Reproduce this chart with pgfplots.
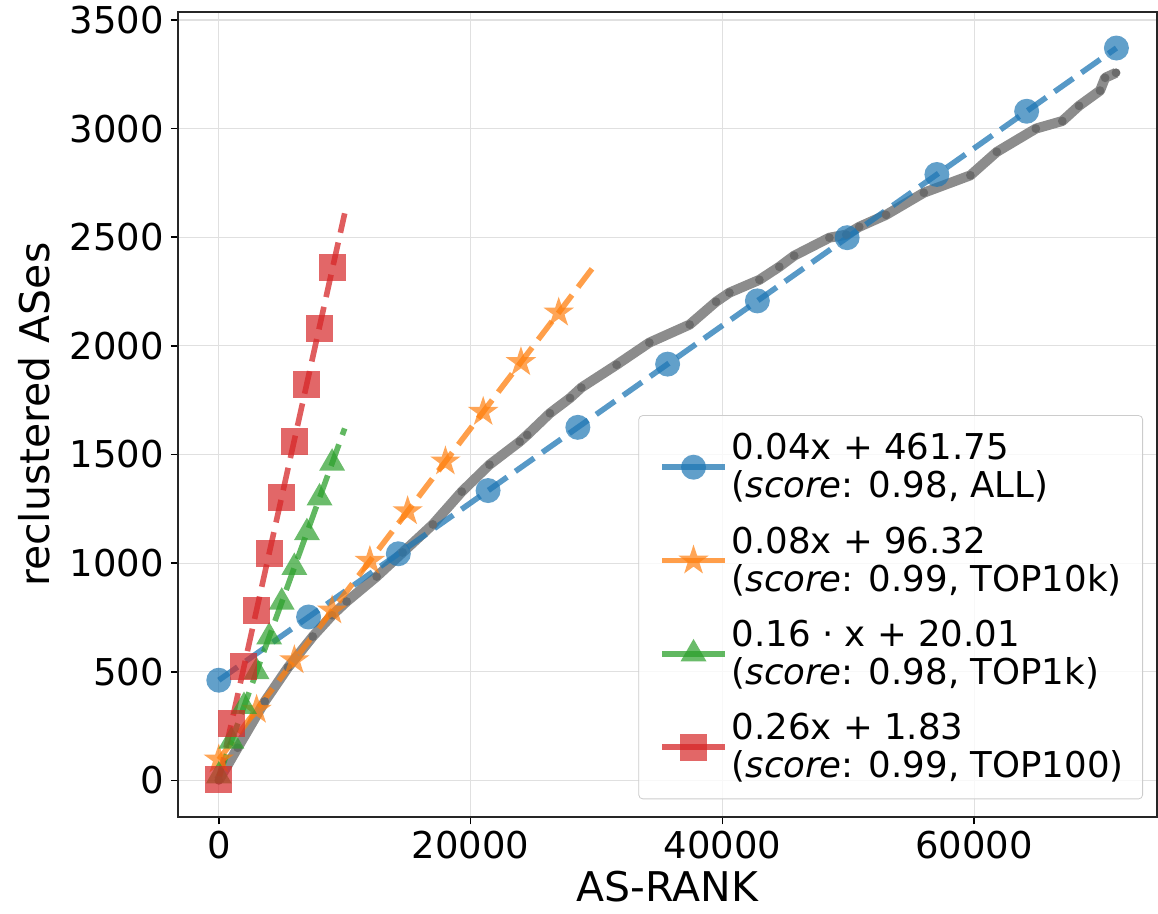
\documentclass[border=0pt]{standalone}
\usepackage{fontspec}
\setmainfont{DejaVu Sans}
\usepackage{pgfplots}
\pgfplotsset{compat=1.18}
\usetikzlibrary{calc,plotmarks}

\definecolor{tblue}{HTML}{1F77B4}
\definecolor{torange}{HTML}{FF7F0E}
\definecolor{tgreen}{HTML}{2CA02C}
\definecolor{tred}{HTML}{D62728}

\pgfdeclareplotmark{fstar}{%
  \pgfpathmoveto{\pgfpointpolar{90}{\pgfplotmarksize}}%
  \pgfpathlineto{\pgfpointpolar{126}{0.382\pgfplotmarksize}}%
  \pgfpathlineto{\pgfpointpolar{162}{\pgfplotmarksize}}%
  \pgfpathlineto{\pgfpointpolar{198}{0.382\pgfplotmarksize}}%
  \pgfpathlineto{\pgfpointpolar{234}{\pgfplotmarksize}}%
  \pgfpathlineto{\pgfpointpolar{270}{0.382\pgfplotmarksize}}%
  \pgfpathlineto{\pgfpointpolar{306}{\pgfplotmarksize}}%
  \pgfpathlineto{\pgfpointpolar{342}{0.382\pgfplotmarksize}}%
  \pgfpathlineto{\pgfpointpolar{18}{\pgfplotmarksize}}%
  \pgfpathlineto{\pgfpointpolar{54}{0.382\pgfplotmarksize}}%
  \pgfpathclose\pgfusepathqfill}

\pgfplotstableread{
x y
0 0
1500 150
3650 363
5500 520
7460 662
9000 760
10160 823
12540 938
14600 1049
17000 1178
19300 1329
21500 1453
23900 1559
24500 1590
26300 1690
27900 1760
28800 1808
31600 1913
34200 2015
37400 2098
39500 2203
40560 2245
42940 2304
44520 2364
45700 2415
48500 2498
49840 2512
50870 2548
53000 2603
56000 2705
59700 2785
61800 2893
64900 3000
67000 3035
68330 3105
70000 3175
70400 3234
71270 3257
}\graytab

\pgfplotstableread{
x y
0 461
7130 752
14260 1043
21390 1334
28520 1625
35650 1916
42780 2207
49910 2498
57040 2789
64170 3080
71300 3371
}\bluetab

\pgfplotstableread{
x y
0 96
3000 325
6000 553
9000 782
12000 1010
15000 1239
18000 1468
21000 1696
24000 1925
27000 2153
}\orangetab

\pgfplotstableread{
x y
0 20
1000 180
2000 340
3000 500
4000 660
5000 820
6000 980
7000 1140
8000 1300
9000 1460
}\greentab

\pgfplotstableread{
x y
0 2
1000 262
2000 522
3000 782
4000 1042
5000 1302
6000 1562
7000 1822
8000 2082
9000 2360
}\redtab

\begin{document}
\begin{tikzpicture}
\begin{axis}[
  scale only axis, width=490pt, height=403pt,
  xmin=-3254, xmax=74524, ymin=-170, ymax=3537,
  xtick={0,20000,40000,60000}, ytick={0,500,...,3500},
  scaled ticks=false,
  /pgf/number format/1000 sep={},
  /pgf/number format/assume math mode=true,
  tick label style={font=\fontsize{18.5}{20}\selectfont},
  label style={font=\fontsize{20.5}{22}\selectfont},
  grid=major, grid style={black!12, line width=0.6pt},
  axis line style={black!85, line width=0.8pt},
  tick style={black, line width=0.8pt},
  tick align=outside, major tick length=3.5pt,
  xtick pos=bottom, ytick pos=left,
  xlabel={AS-RANK}, ylabel={reclustered ASes},
  xlabel style={at={(axis description cs:0.5,-0.086)}, anchor=center},
  ylabel style={at={(axis description cs:-0.147,0.5)}, anchor=center},
  legend cell align=left,
  legend style={at={(1,0)}, anchor=south east, xshift=-7pt, yshift=9pt,
    draw=black!20, rounded corners=2pt, fill=white, fill opacity=0.8, text opacity=1,
    font=\fontsize{17.8}{19}\selectfont, row sep=9pt, inner xsep=7.5pt, inner ysep=7pt,
    cells={align=left}},
  legend image code/.code={%
    \path (-0.1cm,0cm);
    \draw[mark repeat=2, mark phase=2, #1, sharp plot, solid] plot coordinates {(0cm,0cm) (0.55cm,0cm) (1.1cm,0cm)};},
]
% gray curve
\addplot[forget plot, color=black!45, line width=5pt, line join=round,
  mark=*, mark size=2.2pt, mark options={fill=black!58, draw opacity=0}] table[x=x,y=y] {\graytab};

% blue
\addplot[color=tblue, line width=2.8pt, draw opacity=0.75, mark=*, mark size=6.25pt,
  mark options={solid, fill=tblue, fill opacity=0.7, draw opacity=0}, only marks]
  table[x=x,y=y] {\bluetab};
\addlegendentry{0.04x + 461.75\\(\textit{score}: 0.98, ALL)}
\addplot[forget plot, color=tblue, opacity=0.75, line width=2.8pt, dash pattern=on 11.5pt off 5pt]
  coordinates {(0,461) (71300,3371)};

% orange
\addplot[color=torange, line width=2.8pt, draw opacity=0.75, mark=fstar, mark size=8pt,
  mark options={solid, fill=torange, fill opacity=0.7, draw opacity=0}, only marks]
  table[x=x,y=y] {\orangetab};
\addlegendentry{0.08x + 96.32\\(\textit{score}: 0.99, TOP10k)}
\addplot[forget plot, color=torange, opacity=0.75, line width=2.8pt, dash pattern=on 11.5pt off 5pt]
  coordinates {(0,96) (30000,2382)};

% green
\addplot[color=tgreen, line width=2.8pt, draw opacity=0.75, mark=triangle*, mark size=7.5pt,
  mark options={solid, fill=tgreen, fill opacity=0.7, draw opacity=0}, only marks]
  table[x=x,y=y] {\greentab};
\addlegendentry{0.16 · x + 20.01\\(\textit{score}: 0.98, TOP1k)}
\addplot[forget plot, color=tgreen, opacity=0.75, line width=2.8pt, dash pattern=on 11.5pt off 5pt]
  coordinates {(0,20) (10000,1620)};

% red
\addplot[color=tred, line width=2.8pt, draw opacity=0.75, mark=square*, mark size=6.75pt,
  mark options={solid, fill=tred, fill opacity=0.7, draw opacity=0}, only marks]
  table[x=x,y=y] {\redtab};
\addlegendentry{0.26x + 1.83\\(\textit{score}: 0.99, TOP100)}
\addplot[forget plot, color=tred, opacity=0.75, line width=2.8pt, dash pattern=on 11.5pt off 5pt]
  coordinates {(0,2) (10000,2610)};
\end{axis}
\pgfresetboundingbox
\path ($(current axis.south west)+(-89pt,-48pt)$) rectangle ($(current axis.north east)+(0.5pt,6pt)$);
\end{tikzpicture}
\end{document}
